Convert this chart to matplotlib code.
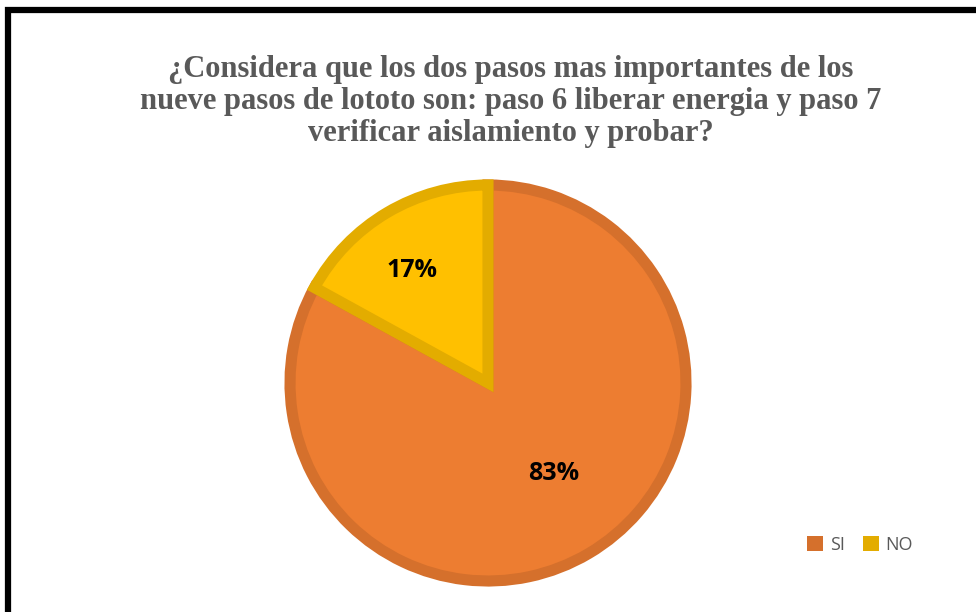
import matplotlib
matplotlib.use("Agg")
import numpy as np
import matplotlib.pyplot as plt
from matplotlib.patches import Rectangle

# data
labels = ['SI', 'NO']
values = [83, 17]
title = ('¿Considera que los dos pasos mas importantes de los\n'
         'nueve pasos de lototo son: paso 6 liberar energia y paso 7\n'
         'verificar aislamiento y probar?')

fills = ['#ED7D31', '#FFC000']
edges = ['#D5702C', '#E3AC00']

W, H = 976, 612
fig = plt.figure(figsize=(W / 100, H / 100), dpi=100)
fig.patch.set_facecolor('white')

# pie centre ~ (488, 383) px, radius ~198 px
cx, cy, r = 488, 383, 198
ax = fig.add_axes([(cx - r) / W, (H - cy - r) / H, 2 * r / W, 2 * r / H])
wedges, texts = ax.pie(values, colors=fills, startangle=90, counterclock=False,
                       radius=1.0,
                       wedgeprops=dict(linewidth=8, edgecolor='none'))
for w, ec in zip(wedges, edges):
    w.set_edgecolor(ec)
    w.set_joinstyle('miter')
    w.set_clip_on(False)
ax.set_xlim(-1, 1)
ax.set_ylim(-1, 1)
ax.set_aspect('equal')
ax.axis('off')

# percentage labels
dist = [0.53, 0.66]
nudge = [0.06, -0.05]
theta = 90
for v, d, dx in zip(values, dist, nudge):
    mid = np.deg2rad(theta - v / sum(values) * 180)
    ax.text(d * np.cos(mid) + dx, d * np.sin(mid),
            f'{v}%', ha='center', va='center',
            fontsize=18, fontweight='bold', family='Open Sans', color='black')
    theta -= v / sum(values) * 360

# title
fig.text(0.523, 1 - 55 / H, title, ha='center', va='top', fontsize=22,
         fontweight='bold', family='Liberation Serif', color='#595959',
         linespacing=1.14)

# legend
handles = [Rectangle((0, 0), 1, 1, facecolor=c, edgecolor='none') for c in edges]
fig.legend(handles, labels, loc='center', bbox_to_anchor=(860 / W, 1 - 545 / H),
           ncol=2, frameon=False, handlelength=0.9, handleheight=0.9,
           handletextpad=0.35, columnspacing=1.0,
           prop={'family': 'Open Sans', 'size': 13}, labelcolor='#595959')

# black frame (cut at right and bottom)
fig.add_artist(Rectangle((8 / W, -0.1), 1.2, 1.1 - 10 / H,
                         transform=fig.transFigure, fill=False,
                         edgecolor='black', linewidth=4.5))

fig.savefig('out.png', dpi=100)
